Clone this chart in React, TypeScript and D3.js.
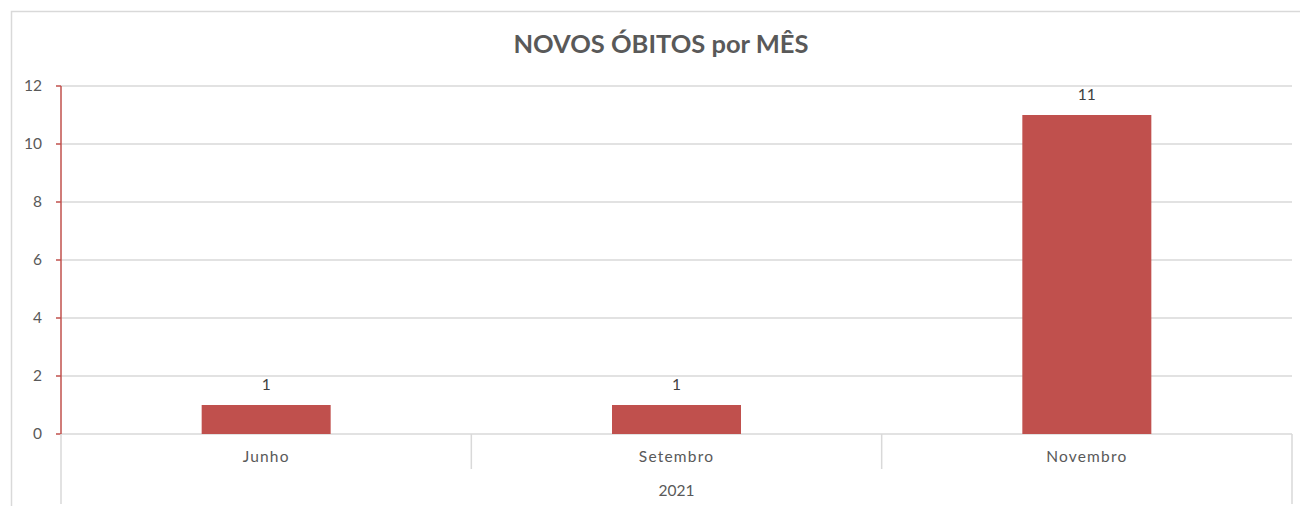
import React from "react";
import * as d3 from "d3";

const categories = ["Junho", "Setembro", "Novembro"];
const values = [1, 1, 11];
const yTicks = [0, 2, 4, 6, 8, 10, 12];
const groupLabel = "2021";
const title = "NOVOS ÓBITOS por MÊS";

export default function App() {
  const W = 1300, H = 506;
  const left = 61, right = 1292, top = 86, bottom = 434;
  const x = d3.scaleBand().domain(categories).range([left, right]).paddingInner(0).paddingOuter(0);
  const y = d3.scaleLinear().domain([0, 12]).range([bottom, top]);
  const bw = 129;
  const font = "Lato, 'Open Sans', sans-serif";
  const textColor = "#595959";
  const grid = "#d9d9d9";
  const red = "#C0504D";
  return (
    <svg width={W} height={H} style={{ position: "absolute", left: 0, top: 0 }} fontFamily={font}>
      <rect x={0} y={0} width={W} height={H} fill="#fff" />
      <path d={`M11.5,${H} V11.5 H${W}`} fill="none" stroke={grid} strokeWidth={1.5} />
      <text x={661} y={53} textAnchor="middle" fontSize={25.5} fontWeight="bold" fill={textColor}>{title}</text>
      {yTicks.map((t) => (
        <g key={t}>
          {t > 0 && <line x1={left} x2={right} y1={y(t)} y2={y(t)} stroke={grid} strokeWidth={1.5} />}
          <line x1={56} x2={left} y1={y(t)} y2={y(t)} stroke={red} strokeWidth={1.5} />
          <text x={42} y={y(t)} dy="0.35em" textAnchor="end" fontSize={15.5} fill={textColor}>{t}</text>
        </g>
      ))}
      <line x1={left} x2={right} y1={bottom} y2={bottom} stroke={grid} strokeWidth={1.5} />
      {categories.map((c, i) => {
        const cx = (x(c) as number) + x.bandwidth() / 2;
        return (
          <g key={c}>
            <rect x={cx - bw / 2} y={y(values[i])} width={bw} height={bottom - y(values[i])} fill={red} />
            <text x={cx} y={y(values[i]) - 20} dy="0.35em" textAnchor="middle" fontSize={15.5} fill="#404040">{values[i]}</text>
            <text x={cx} y={457} dy="0.35em" textAnchor="middle" fontSize={15.5} fill={textColor} letterSpacing={1.2}>{c}</text>
          </g>
        );
      })}
      {categories.slice(1).map((c) => (
        <line key={c} x1={x(c) as number} x2={x(c) as number} y1={bottom} y2={469} stroke={grid} strokeWidth={1.5} />
      ))}
      <line x1={left} x2={left} y1={bottom} y2={504} stroke={grid} strokeWidth={1.5} />
      <line x1={right} x2={right} y1={bottom} y2={504} stroke={grid} strokeWidth={1.5} />
      <line x1={left} x2={left} y1={top} y2={bottom} stroke={red} strokeWidth={1.5} />
      <text x={(left + right) / 2} y={491} dy="0.35em" textAnchor="middle" fontSize={15.5} fill={textColor}>{groupLabel}</text>
    </svg>
  );
}
